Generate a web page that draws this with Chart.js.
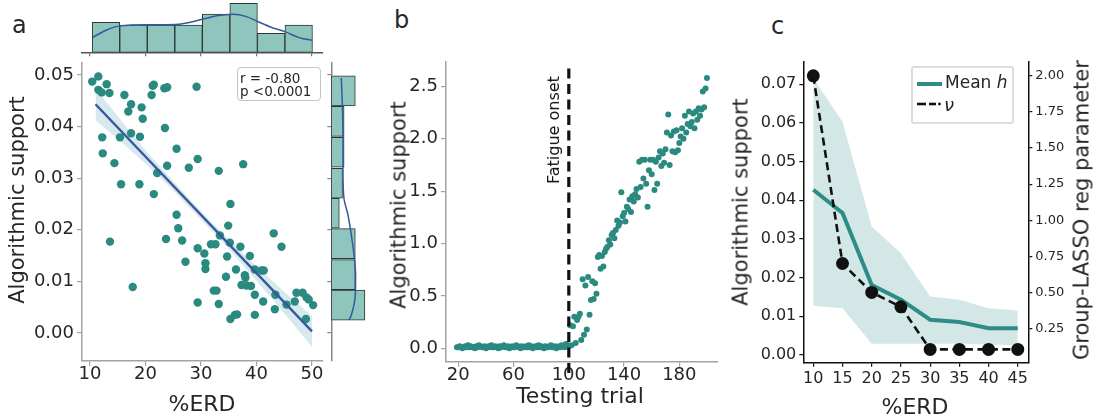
<!DOCTYPE html>
<html><head><meta charset="utf-8">
<script src="https://cdn.jsdelivr.net/npm/chart.js@4.4.0/dist/chart.umd.min.js"></script>
<style>
html,body{margin:0;padding:0;background:#fff;}
#wrap{position:relative;width:1099px;height:420px;overflow:hidden;background:#fff;font-family:'DejaVu Sans',sans-serif;color:#262626;}
canvas{position:absolute;}
.t{position:absolute;line-height:1;white-space:nowrap;}
.c{transform:translate(-50%,-50%);}
.r{transform:translate(-50%,-50%) rotate(-90deg);}
</style></head><body><div id="wrap">
<canvas id="aTop" width="340" height="62" style="left:0;top:0"></canvas>
<canvas id="aMain" width="330" height="365" style="left:0;top:55px"></canvas>
<canvas id="aRight" width="48" height="310" style="left:322px;top:55px"></canvas>
<canvas id="bMain" width="360" height="365" style="left:372px;top:55px"></canvas>
<canvas id="cMain" width="359" height="365" style="left:740px;top:55px"></canvas>

<div class="t" style="left:12px;top:12.7px;font-size:24px">a</div>
<div class="t" style="left:394px;top:7.7px;font-size:24px">b</div>
<div class="t" style="left:771px;top:13.7px;font-size:24px">c</div>

<div class="t r" style="left:17px;top:200px;font-size:21px">Algorithmic support</div>
<div class="t c" style="left:202px;top:403.5px;font-size:22px">%ERD</div>
<div class="t r" style="left:399px;top:205px;font-size:21px">Algorithmic support</div>
<div class="t c" style="left:580px;top:396px;font-size:22px">Testing trial</div>
<div class="t r" style="left:741px;top:202px;font-size:21px">Algorithmic support</div>
<div class="t c" style="left:915px;top:406.5px;font-size:22px">%ERD</div>
<div class="t r" style="left:1082px;top:210px;font-size:21px">Group-LASSO reg parameter</div>
<div class="t r" style="left:554px;top:129.5px;font-size:16px;color:#111">Fatigue onset</div>

<div style="position:absolute;left:236.5px;top:66.5px;width:82px;height:32px;border:1.2px solid #c4c4c4;border-radius:4px;background:rgba(255,255,255,0.85)"></div>
<div class="t" style="left:240px;top:71.6px;font-size:13.5px">r = -0.80</div>
<div class="t" style="left:240px;top:85.3px;font-size:13.5px">p &lt;0.0001</div>

<div style="position:absolute;left:911px;top:66px;width:99px;height:54px;border:2px solid #dcdcdc;border-radius:3px;background:rgba(255,255,255,0.85)"></div>
<div style="position:absolute;left:916.5px;top:81.5px;width:25px;height:4px;background:#2e8c88"></div>
<svg style="position:absolute;left:915px;top:98px" width="30" height="12"><line x1="2" y1="6" x2="11" y2="6" stroke="#111" stroke-width="2.6"/><line x1="14" y1="6" x2="21" y2="6" stroke="#111" stroke-width="2.6"/><circle cx="24.5" cy="6" r="1.4" fill="#111"/></svg>
<div class="t" style="left:945px;top:74px;font-size:17px">Mean <i>h</i></div>
<div class="t" style="left:944px;top:96px;font-size:18px"><i>ν</i></div>
</div>
<script>
// ---------- Panel a data ----------
const erdA = [10.4,11.5,11.5,12.1,13.0,13.5,16.2,17.4,16.9,19.3,19.5,21.3,21.1,21.5,23.4,23.9,29.2,12.2,12.3,14.4,15.4,17.4,19.0,15.6,18.9,21.5,23.5,23.9,25.6,29.4,27.8,33.2,37.6,13.6,17.7,23.7,25.6,25.9,26.6,27.2,29.4,29.4,30.6,30.8,30.8,31.8,32.6,32.3,32.8,33.2,34.5,34.7,34.9,35.2,35.3,35.3,36.1,36.5,36.3,37.1,37.3,37.9,38.0,38.2,39.0,38.8,39.7,39.7,39.7,40.9,41.3,41.2,43.3,43.1,44.5,43.4,45.4,46.9,47.2,48.3,49.0,49.4,50.2,48.9,22.1,33.4];
const supportA = [0.0487,0.0497,0.0471,0.0466,0.0482,0.0465,0.0461,0.0443,0.0429,0.0437,0.0415,0.0479,0.0461,0.0481,0.0474,0.0476,0.0477,0.0379,0.0348,0.0329,0.0379,0.0387,0.0380,0.0288,0.0288,0.0269,0.0397,0.0324,0.0357,0.0337,0.0320,0.0314,0.0327,0.0177,0.0089,0.0182,0.0229,0.0203,0.0179,0.0138,0.0164,0.0059,0.0154,0.0135,0.0124,0.0172,0.0172,0.0082,0.0082,0.0056,0.0109,0.0148,0.0208,0.0175,0.0250,0.0027,0.0035,0.0036,0.0123,0.0167,0.0093,0.0112,0.0107,0.0092,0.0091,0.0149,0.0123,0.0035,0.0074,0.0121,0.0121,0.0061,0.0046,0.0193,0.0167,0.0074,0.0055,0.0061,0.0078,0.0078,0.0069,0.0065,0.0054,0.0027,0.0310,0.0189];
const regX = [11, 50];
const regY = [0.0443, 0.0003];
const bandXA = [11,15,20,25,30,35,40,45,50];
const bandUpperA = [0.0474,0.0420,0.0354,0.0294,0.0236,0.0181,0.0129,0.0080,0.0033];
const bandLowerA = [0.0412,0.0376,0.0328,0.0276,0.0220,0.0163,0.0101,0.0038,-0.0027];
const histXCenters = [12.88,17.84,22.80,27.76,32.72,37.68,42.64,47.60];
const histXCounts = [11,10,10,10,14,18,7,10];
const kdeXPos = [10.5,13.0,15.5,20.5,25.4,30.4,32.8,35.8,38.2,40.2,43.0,45.1,47.8,50.1];
const kdeXVal = [5.5,8.2,9.7,10.1,10.2,12.2,13.4,14.0,13.1,11.3,8.9,7.6,5.3,4.4];
const histYCenters = [0.0054,0.0113,0.0173,0.0232,0.0290,0.0350,0.0410,0.0469];
const histYCounts = [21,15,15,5,7,8,8,15];
const kdeYPos = [0.0025,0.0035,0.0074,0.0112,0.0151,0.0190,0.0229,0.0261,0.0313,0.0377,0.0442,0.0494];
const kdeYVal = [11.1,12.5,15.0,15.2,14.2,12.5,10.4,7.9,7.3,7.3,6.9,6.25];
const ticksAX = [10,20,30,40,50];
const labelsAX = ['10','20','30','40','50'];
const ticksAY = [0,0.01,0.02,0.03,0.04,0.05];
const labelsAY = ['0.00','0.01','0.02','0.03','0.04','0.05'];

// ---------- Panel b data ----------
const firstTrialB = 19;
const supportB = [
0.01,0.01,0.02,0.01,0.00,0.01,0.02,0.01,0.03,0.01,
0.02,0.01,0.01,0.00,0.02,0.01,0.03,0.02,0.01,0.01,
0.02,0.00,0.01,0.02,0.01,0.03,0.01,0.01,0.02,0.01,
0.00,0.02,0.01,0.02,0.03,0.01,0.01,0.02,0.00,0.01,
0.02,0.01,0.01,0.03,0.02,0.01,0.00,0.02,0.01,0.01,
0.02,0.01,0.03,0.01,0.02,0.00,0.01,0.02,0.01,0.03,
0.01,0.02,0.01,0.00,0.02,0.01,0.01,0.02,0.03,0.01,
0.01,0.02,0.00,0.01,0.02,0.01,0.03,0.02,0.01,0.04,0.03,
0.02,0.22,0.03,0.21,0.30,0.05,0.27,0.30,0.33,0.08,
0.66,0.13,0.60,0.18,0.68,0.32,0.46,0.64,0.47,0.62,
0.52,0.87,0.89,0.76,0.88,0.78,0.92,0.95,0.97,1.03,
0.99,1.08,1.10,1.05,1.13,1.22,1.17,1.20,1.49,1.26,
1.29,1.21,1.35,1.33,1.42,1.30,1.45,1.40,1.47,1.52,
1.44,1.78,1.54,1.80,1.62,1.80,1.57,1.35,1.70,1.80,
1.66,1.80,1.51,1.78,1.57,1.82,1.88,1.74,1.86,1.77,
1.90,2.06,2.23,1.75,2.03,1.88,2.07,1.87,2.08,1.89,
1.96,2.02,2.10,2.00,2.22,2.06,2.14,2.26,2.12,2.16,
2.24,2.10,2.26,2.18,2.29,2.22,2.28,2.45,2.30,2.48,2.58];
const fatigueTrial = 100;
const fatigueSpan = [2.67, -0.236];
const ticksBX = [20,60,100,140,180];
const labelsBX = ['20','60','100','140','180'];
const ticksBY = [0,0.5,1,1.5,2,2.5];
const labelsBY = ['0.0','0.5','1.0','1.5','2.0','2.5'];

// ---------- Panel c data ----------
const erdC = [10,15,20,25,30,35,40,45];
const meanH = [0.0427,0.0367,0.0181,0.0143,0.0091,0.0085,0.0069,0.0069];
const bandUpperC = [0.0715,0.0603,0.0332,0.0263,0.0151,0.0143,0.0121,0.0115];
const bandLowerC = [0.0127,0.0121,0.0029,0.0029,0.0029,0.0029,0.0027,0.0025];
const nuC = [2.00,0.70,0.50,0.40,0.105,0.105,0.105,0.105];
const ticksCX = [10,15,20,25,30,35,40,45];
const labelsCX = ['10','15','20','25','30','35','40','45'];
const ticksCY = [0,0.01,0.02,0.03,0.04,0.05,0.06,0.07];
const labelsCY = ['0.00','0.01','0.02','0.03','0.04','0.05','0.06','0.07'];
const ticksCY2 = [0.25,0.5,0.75,1,1.25,1.5,1.75,2];
const labelsCY2 = ['0.25','0.50','0.75','1.00','1.25','1.50','1.75','2.00'];

// ---------- styling ----------
const TEAL = '#2a8a80', HIST_FILL = '#8ec5bd', HIST_EDGE = '#2b3633', BLUE = '#35599a';
Chart.defaults.font.family = "'DejaVu Sans', sans-serif";
Chart.defaults.color = '#262626';
Chart.defaults.animation = false;
Chart.defaults.events = [];
Chart.defaults.plugins.legend.display = false;
Chart.defaults.plugins.tooltip.enabled = false;

const pts = (xs, ys) => xs.map((x, i) => ({x, y: ys[i]}));

function axis(o) {
  return {
    type: 'linear', position: o.position, min: o.min, max: o.max, offset: false,
    display: o.display !== false,
    afterBuildTicks: s => { if (o.ticks) s.ticks = o.ticks.map(v => ({value: v})); },
    afterFit: s => {
      if (s.isHorizontal()) s.height = o.fit; else s.width = o.fit;
      s.paddingLeft = 0; s.paddingRight = 0; s.paddingTop = 0; s.paddingBottom = 0;
    },
    grid: {display: true, drawOnChartArea: false, drawTicks: true, tickLength: o.tl || 5,
           color: o.tick || o.spine, lineWidth: o.tw || 1.2, offset: false},
    border: {display: true, color: o.spine, width: o.bw || 1.5},
    ticks: {display: !!o.labels, autoSkip: false, maxRotation: 0, minRotation: 0,
            padding: o.pad == null ? 3 : o.pad, color: '#262626', font: {size: o.fs || 18},
            callback: (v, i) => o.labels ? o.labels[i] : ''}
  };
}

// Panel a: top marginal histogram
new Chart(document.getElementById('aTop'), {
  type: 'bar',
  data: { datasets: [
    {type: 'line', data: pts(kdeXPos, kdeXVal), borderColor: BLUE, borderWidth: 1.5, pointRadius: 0,
     cubicInterpolationMode: 'monotone', order: 1},
    {type: 'bar', data: pts(histXCenters, histXCounts), backgroundColor: HIST_FILL, borderColor: HIST_EDGE,
     borderWidth: 1, borderSkipped: false, barPercentage: 1, categoryPercentage: 1, order: 2}
  ]},
  options: {
    responsive: false, layout: {padding: {left: 82, right: 17, top: 3, bottom: 0}, autoPadding: false},
    scales: {
      x: axis({position: 'bottom', min: 8.56, max: 51.98, ticks: ticksAX, fit: 9.7, spine: '#555', tick: '#777', tl: 4}),
      y: {type: 'linear', display: false, min: 0, max: 18.1}
    }
  }
});

// Panel a: main scatter
new Chart(document.getElementById('aMain'), {
  type: 'scatter',
  data: { datasets: [
    {type: 'line', data: pts(regX, regY), borderColor: BLUE, borderWidth: 2.4, pointRadius: 0, order: 1},
    {type: 'scatter', data: pts(erdA, supportA), backgroundColor: TEAL, borderColor: TEAL, borderWidth: 0,
     pointRadius: 4.2, order: 2},
    {type: 'line', data: pts(bandXA, bandUpperA), borderColor: 'transparent', borderWidth: 0, pointRadius: 0,
     fill: '+1', backgroundColor: 'rgba(140,192,208,0.35)', order: 5},
    {type: 'line', data: pts(bandXA, bandLowerA), borderColor: 'transparent', borderWidth: 0, pointRadius: 0,
     fill: false, order: 5}
  ]},
  options: {
    responsive: false, layout: {padding: {left: 0, right: 7, top: 8, bottom: 0}, autoPadding: false},
    scales: {
      x: axis({position: 'bottom', min: 8.56, max: 51.98, ticks: ticksAX, labels: labelsAX, fit: 59,
               spine: '#a3a3a3', fs: 18, pad: -2}),
      y: axis({position: 'left', min: -0.00543, max: 0.0523, ticks: ticksAY, labels: labelsAY, fit: 82,
               spine: '#a3a3a3', fs: 18, pad: 3})
    }
  }
});

// Panel a: right marginal histogram
new Chart(document.getElementById('aRight'), {
  type: 'bar',
  data: { datasets: [
    {type: 'line', indexAxis: 'y', data: pts(kdeYVal, kdeYPos), borderColor: BLUE, borderWidth: 1.5,
     pointRadius: 0, cubicInterpolationMode: 'monotone', order: 1},
    {type: 'bar', data: pts(histYCounts, histYCenters), backgroundColor: HIST_FILL, borderColor: HIST_EDGE,
     borderWidth: 1, borderSkipped: false, barPercentage: 1, categoryPercentage: 1, order: 2}
  ]},
  options: {
    indexAxis: 'y', responsive: false,
    layout: {padding: {left: 0, right: 2.7, top: 8, bottom: 4}, autoPadding: false},
    scales: {
      x: {type: 'linear', display: false, min: 0, max: 22.5},
      y: axis({position: 'left', min: -0.00543, max: 0.0523, ticks: ticksAY, fit: 9.3, spine: '#888', tl: 4})
    }
  }
});

// Panel b
new Chart(document.getElementById('bMain'), {
  type: 'scatter',
  data: { datasets: [
    {type: 'line', data: [{x: fatigueTrial, y: fatigueSpan[0]}, {x: fatigueTrial, y: fatigueSpan[1]}],
     borderColor: '#111', borderWidth: 3.2, borderDash: [10, 5.5], pointRadius: 0, clip: false, order: 1},
    {type: 'scatter', data: supportB.map((v, i) => ({x: firstTrialB + i, y: v})), backgroundColor: TEAL,
     borderColor: TEAL, borderWidth: 0, pointRadius: 3, order: 2}
  ]},
  options: {
    responsive: false, layout: {padding: {left: 0, right: 14, top: 6.7, bottom: 0}, autoPadding: false},
    scales: {
      x: axis({position: 'bottom', min: 11.1, max: 208, ticks: ticksBX, labels: labelsBX, fit: 58.3,
               spine: '#a3a3a3', fs: 18, pad: -2}),
      y: axis({position: 'left', min: -0.128, max: 2.735, ticks: ticksBY, labels: labelsBY, fit: 74,
               spine: '#a3a3a3', fs: 18, pad: 3})
    }
  }
});

// Panel c
new Chart(document.getElementById('cMain'), {
  type: 'line',
  data: { datasets: [
    {data: pts(erdC, nuC), yAxisID: 'y2', borderColor: '#111', borderWidth: 2.6, borderDash: [8, 4.5],
     pointRadius: 5.2, pointBackgroundColor: '#111', pointBorderColor: '#111', order: 1},
    {data: pts(erdC, meanH), borderColor: '#2e8c88', borderWidth: 4, pointRadius: 0, order: 3},
    {data: pts(erdC, bandUpperC), borderColor: 'transparent', borderWidth: 0, pointRadius: 0,
     fill: '+1', backgroundColor: 'rgba(120,185,180,0.33)', order: 5},
    {data: pts(erdC, bandLowerC), borderColor: 'transparent', borderWidth: 0, pointRadius: 0, fill: false, order: 5}
  ]},
  options: {
    responsive: false, layout: {padding: {left: 0, right: 0, top: 6.7, bottom: 0}, autoPadding: false},
    scales: {
      x: axis({position: 'bottom', min: 8.29, max: 46.8, ticks: ticksCX, labels: labelsCX, fit: 57.3,
               spine: '#111', fs: 16, pad: 3, tl: 4}),
      y: axis({position: 'left', min: -0.002, max: 0.0758, ticks: ticksCY, labels: labelsCY, fit: 63.3,
               spine: '#111', fs: 16, pad: 3, tl: 4}),
      y2: axis({position: 'right', min: 0.013, max: 2.098, ticks: ticksCY2, labels: labelsCY2, fit: 70.7,
                spine: '#111', fs: 13, pad: 3, tl: 4})
    }
  }
});
</script>
</body></html>
